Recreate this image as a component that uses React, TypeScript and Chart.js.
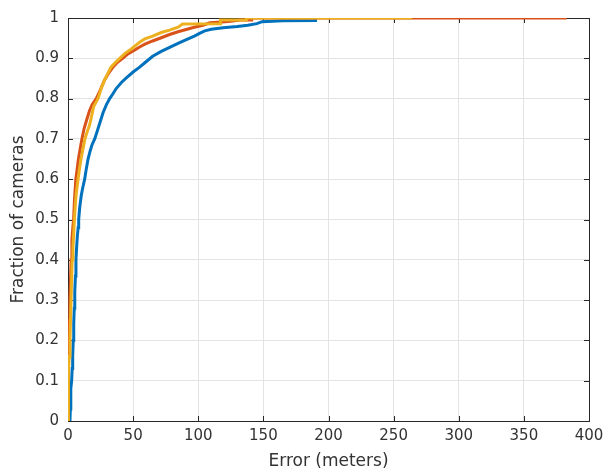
import React, { useEffect, useRef } from "react";
import { Chart, registerables } from "chart.js";

Chart.register(...registerables);

const blueErr = [1.5, 1.8, 2.0, 2.3, 2.8, 3.2, 3.6, 4.0, 4.4, 4.8, 5.2, 5.7, 6.1, 6.6, 7.2, 7.8, 8.2, 9.0, 10.2, 11.4, 12.8, 14.0, 15.4, 17.0, 18.4, 20.5, 22, 24, 26.9, 29.5, 32, 34.5, 37, 41, 45, 50, 55, 59, 65, 71.6, 78, 84.5, 90, 97, 101, 105, 110, 119, 130, 138, 145, 149, 165, 190, 190];
const blueFrac = [0, 0.03, 0.05, 0.08, 0.1, 0.13, 0.16, 0.2, 0.24, 0.28, 0.32, 0.36, 0.4, 0.43, 0.46, 0.48, 0.5, 0.53, 0.56, 0.58, 0.6, 0.625, 0.65, 0.67, 0.685, 0.7, 0.715, 0.735, 0.765, 0.785, 0.8, 0.812, 0.825, 0.84, 0.852, 0.866, 0.878, 0.889, 0.905, 0.917, 0.927, 0.937, 0.945, 0.955, 0.962, 0.968, 0.972, 0.976, 0.979, 0.982, 0.986, 0.991, 0.993, 0.994, 1.0];

const redErr = [0, 0, 0.3, 0.6, 1.0, 1.4, 1.9, 2.4, 3.0, 3.7, 4.3, 5.0, 6.0, 7.0, 8.0, 9.3, 10.7, 12.3, 14.6, 16.5, 18.5, 21.7, 25, 28, 31, 34.5, 38, 42, 46, 51, 55, 59, 65, 71.6, 78, 84.5, 90, 97, 103.6, 109, 118, 125, 132, 141, 141, 383];
const redFrac = [0, 0.12, 0.15, 0.2, 0.25, 0.3, 0.35, 0.4, 0.45, 0.48, 0.5, 0.55, 0.6, 0.625, 0.65, 0.675, 0.7, 0.725, 0.75, 0.77, 0.785, 0.8, 0.823, 0.846, 0.862, 0.878, 0.89, 0.9, 0.911, 0.92, 0.928, 0.935, 0.943, 0.951, 0.959, 0.966, 0.971, 0.977, 0.982, 0.988, 0.99, 0.992, 0.995, 0.995, 1.0, 1.0];

const yellowErr = [0, 0, 0.3, 0.6, 1.0, 1.5, 2.0, 2.6, 3.2, 3.8, 4.3, 4.9, 5.5, 6.2, 7.7, 8.8, 10, 11.5, 13, 15, 16.6, 18, 19.7, 23, 25.5, 28, 30.5, 33, 36.5, 39.7, 44, 48.6, 52, 55, 59, 65, 71.6, 78, 84.5, 88, 117, 117, 137, 137, 264];
const yellowFrac = [0, 0.03, 0.08, 0.12, 0.16, 0.2, 0.26, 0.33, 0.4, 0.43, 0.46, 0.5, 0.53, 0.56, 0.6, 0.625, 0.65, 0.675, 0.7, 0.72, 0.735, 0.755, 0.78, 0.8, 0.825, 0.846, 0.862, 0.878, 0.89, 0.9, 0.913, 0.923, 0.932, 0.94, 0.948, 0.955, 0.964, 0.97, 0.977, 0.985, 0.986, 0.995, 0.995, 1.0, 1.0];

const xTicks = [0, 50, 100, 150, 200, 250, 300, 350, 400];
const yTicks = [0, 0.1, 0.2, 0.3, 0.4, 0.5, 0.6, 0.7, 0.8, 0.9, 1];

const toPoints = (xs: number[], ys: number[]) => xs.map((x, i) => ({ x, y: ys[i] }));

const FONT = "'DejaVu Sans', sans-serif";
const TEXT = "#333333";
const AXIS = "#262626";

const boxPlugin = {
  id: "matlabBox",
  beforeDatasetsDraw(chart: any) {
    const { ctx, chartArea, scales } = chart;
    const { left, right, top, bottom } = chartArea;
    ctx.save();
    ctx.strokeStyle = AXIS;
    ctx.lineWidth = 1;
    ctx.beginPath();
    const tl = 5;
    xTicks.forEach((v) => {
      const px = Math.round(scales.x.getPixelForValue(v)) + 0.5;
      ctx.moveTo(px, bottom);
      ctx.lineTo(px, bottom - tl);
      ctx.moveTo(px, top);
      ctx.lineTo(px, top + tl);
    });
    yTicks.forEach((v) => {
      const py = Math.round(scales.y.getPixelForValue(v)) + 0.5;
      ctx.moveTo(left, py);
      ctx.lineTo(left + tl, py);
      ctx.moveTo(right, py);
      ctx.lineTo(right - tl, py);
    });
    ctx.stroke();
    ctx.strokeRect(Math.round(left) + 0.5, Math.round(top) + 0.5, Math.round(right - left), Math.round(bottom - top));
    ctx.restore();
  },
};

export default function App() {
  const ref = useRef<HTMLCanvasElement | null>(null);
  useEffect(() => {
    if (!ref.current) return;
    const mk = (label: string, xs: number[], ys: number[], color: string, order: number) => ({
      label,
      data: toPoints(xs, ys),
      borderColor: color,
      backgroundColor: color,
      borderWidth: 3,
      pointRadius: 0,
      tension: 0,
      fill: false,
      order,
    });
    const chart = new Chart(ref.current, {
      type: "line",
      data: {
        datasets: [
          mk("A", blueErr, blueFrac, "#0072BD", 3),
          mk("B", redErr, redFrac, "#D95319", 2),
          mk("C", yellowErr, yellowFrac, "#EDB120", 1),
        ],
      },
      options: {
        animation: false,
        responsive: false,
        layout: { padding: { left: 0, right: 24, top: 10, bottom: 0 } },
        plugins: { legend: { display: false }, tooltip: { enabled: false } },
        scales: {
          x: {
            type: "linear",
            min: 0,
            max: 400,
            afterBuildTicks: (s: any) => { s.ticks = xTicks.map((v) => ({ value: v })); },
            afterFit: (s: any) => { s.height = 53; },
            grid: { color: "#e3e3e3", drawTicks: false },
            border: { display: false },
            ticks: { color: TEXT, font: { family: FONT, size: 15 }, padding: 6, maxRotation: 0 },
            title: { display: true, text: "Error (meters)", color: TEXT, font: { family: FONT, size: 17 }, padding: { top: 0, bottom: 2 } },
          },
          y: {
            type: "linear",
            min: 0,
            max: 1,
            afterBuildTicks: (s: any) => { s.ticks = yTicks.map((v) => ({ value: v })); },
            afterFit: (s: any) => { s.width = 68; },
            grid: { color: "#e3e3e3", drawTicks: false },
            border: { display: false },
            ticks: {
              color: TEXT,
              font: { family: FONT, size: 15 },
              padding: 9,
              callback: (v: any) => String(Math.round(Number(v) * 10) / 10),
            },
            title: { display: true, text: "Fraction of cameras", color: TEXT, font: { family: FONT, size: 17 }, padding: { top: 8, bottom: 4 } },
          },
        },
      },
      plugins: [boxPlugin],
    });
    return () => chart.destroy();
  }, []);
  return (
    <div style={{ position: "absolute", left: 0, top: 0, width: 613, height: 474, background: "#fff" }}>
      <canvas ref={ref} width={613} height={474} style={{ width: 613, height: 474, display: "block" }} />
    </div>
  );
}
